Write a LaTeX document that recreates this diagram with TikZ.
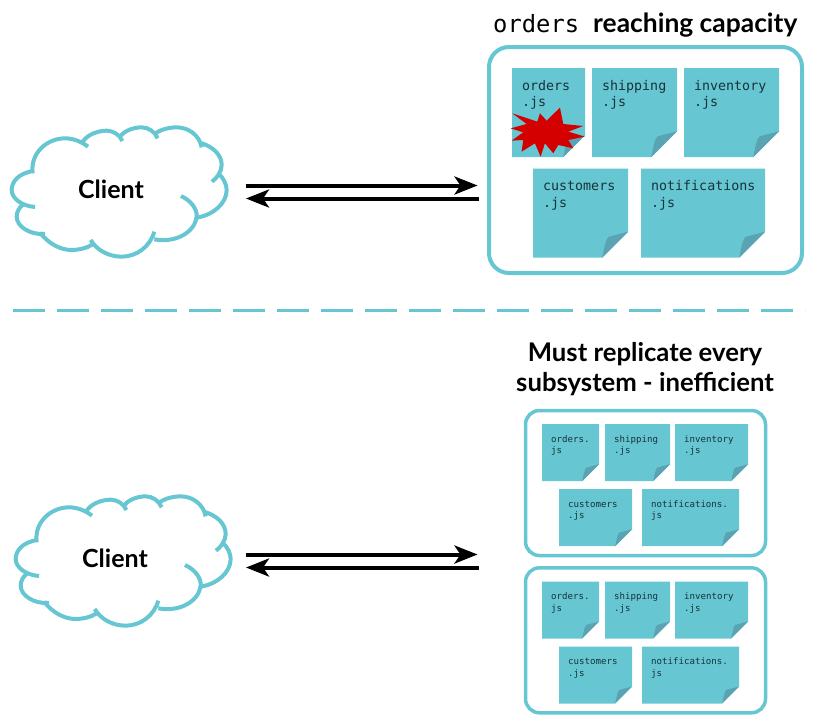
\documentclass[tikz,border=0pt]{standalone}
\usepackage{fontspec}
\setmainfont{Lato}
\newfontfamily\notefont{DejaVu Sans Mono}
\usetikzlibrary{arrows.meta}

\definecolor{teal1}{HTML}{66C6D2}
\definecolor{fold1}{HTML}{5AA3B2}
\definecolor{burst1}{HTML}{D40000}
\definecolor{ink1}{HTML}{17333A}

\begin{document}
\begin{tikzpicture}[
    x=1pt, y=-1pt,
    % Styles
    notefold/.style={% sheet with a cut corner and darker flap
        path picture={
            \fill[teal1]
                (path picture bounding box.north west) -- (path picture bounding box.north east)
                -- ([yshift=#1 pt]path picture bounding box.south east)
                -- ([xshift=-#1 pt]path picture bounding box.south east)
                -- (path picture bounding box.south west) -- cycle;
            \fill[fold1]
                ([xshift=-#1 pt]path picture bounding box.south east)
                .. controls ([xshift=-0.92*#1 pt,yshift=0.4*#1 pt]path picture bounding box.south east)
                and ([xshift=-0.86*#1 pt,yshift=0.7*#1 pt]path picture bounding box.south east)
                .. ([xshift=-0.76*#1 pt,yshift=0.8*#1 pt]path picture bounding box.south east)
                -- ([yshift=#1 pt]path picture bounding box.south east) -- cycle;
            },
        },
    notebig/.style={% For the large files
        rectangle,
        anchor=north west,
        inner xsep=10pt,
        inner ysep=10pt,
        text height=12pt,
        text depth=57pt,
        align=left,
        text=ink1,
        font=\notefont\fontsize{13.3}{16.5}\selectfont,
        },
    notesmall/.style={% For the small files
        rectangle,
        anchor=north west,
        inner xsep=9pt,
        inner ysep=8pt,
        text height=10pt,
        text depth=31pt,
        align=left,
        text=ink1,
        font=\notefont\fontsize{9.1}{11.5}\selectfont,
        notefold=17,
        },
    groupbox/.style={% For the rounded frames
        rectangle,
        rounded corners=20pt,
        draw=teal1,
        outer sep=0pt,
        anchor=north west,
        },
    clientlabel/.style={
        font=\bfseries\fontsize{25}{30}\selectfont,
        },
    titlelabel/.style={
        font=\bfseries\fontsize{25.7}{30}\selectfont,
        inner sep=0pt,
        },
    flow/.style={% For the request and reply arrows
        line width=4pt,
        -{Stealth[length=23pt,width=18pt,inset=6pt]},
        },
    clientcloud/.pic={
        \draw[teal1, line width=4pt, x=.3333pt, y=-.3333pt, shift={(-333,-237)}]
            (100,183) .. controls (55,190) and (35,215) .. (35,240) .. controls (35,265) and (65,288) .. (105,291)
            (98,190) .. controls (90,130) and (140,85) .. (195,85) .. controls (220,85) and (245,95) .. (264,110)
            (248,95) .. controls (265,70) and (300,62) .. (320,62) .. controls (340,62) and (360,75) .. (367,93)
            (362,78) .. controls (375,60) and (405,52) .. (425,52) .. controls (445,52) and (465,65) .. (473,85)
            (465,72) .. controls (480,58) and (510,52) .. (530,52) .. controls (565,52) and (598,75) .. (605,112)
            (600,98) .. controls (640,110) and (665,135) .. (665,165) .. controls (665,185) and (650,205) .. (636,215)
            (655,190) .. controls (672,205) and (680,225) .. (680,240) .. controls (680,280) and (640,315) .. (590,323)
            (543,258) .. controls (570,270) and (592,295) .. (590,320) .. controls (585,365) and (530,400) .. (463,388)
            (463,365) .. controls (450,410) and (410,440) .. (365,440) .. controls (325,440) and (290,420) .. (272,390)
            (278,403) .. controls (260,415) and (235,420) .. (215,420) .. controls (180,420) and (145,400) .. (120,368)
            (135,372) .. controls (90,375) and (50,350) .. (50,320) .. controls (50,305) and (58,292) .. (68,285);
        },
    ]

    \useasboundingbox (0,0) rectangle (819,723);

    \newcommand{\gap}{157.3}

    % Titles
    \node[anchor=base west, inner sep=0pt, font=\notefont\fontsize{23.8}{28}\selectfont] (title_orders) at (493,32) {orders};
    \node[titlelabel, anchor=base west, font=\bfseries\fontsize{26.4}{30}\selectfont] (title_capacity) at (593,32) {reaching capacity};
    \node[titlelabel, anchor=north, align=center] (title_replicate) at (645,342.5) {Must replicate every\\subsystem - inefficient};

    % Draw the clients
    \pic at (111,189) {clientcloud};
    \node[clientlabel] (client_top) at (111,189) {Client};
    \pic at (115,558) {clientcloud};
    \node[clientlabel] (client_low) at (115,558) {Client};

    % Draw the frames
    \node[groupbox, line width=4pt, minimum width=313pt, minimum height=226pt] (frame_top) at (489,47) {};
    \node[groupbox, line width=3.5pt, rounded corners=14pt, minimum width=240pt, minimum height=145pt] (frame_a) at (525.5,410.5) {};
    \node[groupbox, line width=3.5pt, rounded corners=14pt, minimum width=240pt, minimum height=145pt] (frame_b) at (525.5,410.5+\gap) {};

    % Upper files
    \node[notebig, notefold=22, text width=53pt] (orders) at (512,68) {orders\\.js};
    \node[notebig, notefold=26, text width=65pt] (shipping) at (592,68) {shipping\\.js};
    \node[notebig, notefold=26, text width=75pt] (inventory) at (684,68) {inventory\\.js};
    \node[notebig, notefold=26, text width=75pt] (customers) at (533,168.5) {customers\\.js};
    \node[notebig, notefold=26, text width=104pt] (notifications) at (641,168.5) {notifications\\.js};

    % Lower files
    \node[notesmall, text width=39pt] (orders_a) at (542,424) {orders.\\js};
    \node[notesmall, text width=47pt] (shipping_a) at (605,424) {shipping\\.js};
    \node[notesmall, text width=55pt] (inventory_a) at (675,424) {inventory\\.js};
    \node[notesmall, text width=55pt] (customers_a) at (559,489) {customers\\.js};
    \node[notesmall, text width=79pt] (notifications_a) at (642,489) {notifications.\\js};

    \node[notesmall, text width=39pt] (orders_b) at (542,424+\gap) {orders.\\js};
    \node[notesmall, text width=47pt] (shipping_b) at (605,424+\gap) {shipping\\.js};
    \node[notesmall, text width=55pt] (inventory_b) at (675,424+\gap) {inventory\\.js};
    \node[notesmall, text width=55pt] (customers_b) at (559,489+\gap) {customers\\.js};
    \node[notesmall, text width=79pt] (notifications_b) at (642,489+\gap) {notifications.\\js};

    % Overload mark on the first file
    \fill[burst1, x=.3333pt, y=-.3333pt, shift={(1440,0)}]
        (97,340) -- (172,365) -- (180,340) -- (200,362) -- (240,323) -- (250,372) -- (310,378)
        -- (265,395) -- (315,410) -- (265,420) -- (280,445) -- (235,435) -- (220,460) -- (195,430)
        -- (182,470) -- (165,430) -- (125,455) -- (130,420) -- (95,422) -- (130,397) -- (92,385) -- (140,372) -- cycle;

    % Dashed divider
    \coordinate (divider_l) at (13,310.5);
    \coordinate (divider_r) at (805,310.5);
    \draw[teal1, line width=3.5pt, dash pattern=on 32pt off 12pt] (divider_l) -- (divider_r);

    % Start connecting all.
    \coordinate (top_out) at (245.5,185.5);
    \coordinate (top_in) at (477.5,185.5);
    \coordinate (top_reply) at (479,198.5);
    \coordinate (top_back) at (246,198.5);
    \draw[flow] (top_out) -- (top_in);
    \draw[flow] (top_reply) -- (top_back);

    \coordinate (low_out) at (245.5,554.5);
    \coordinate (low_in) at (477.5,554.5);
    \coordinate (low_reply) at (479,567.5);
    \coordinate (low_back) at (246,567.5);
    \draw[flow] (low_out) -- (low_in);
    \draw[flow] (low_reply) -- (low_back);

\end{tikzpicture}
\end{document}
